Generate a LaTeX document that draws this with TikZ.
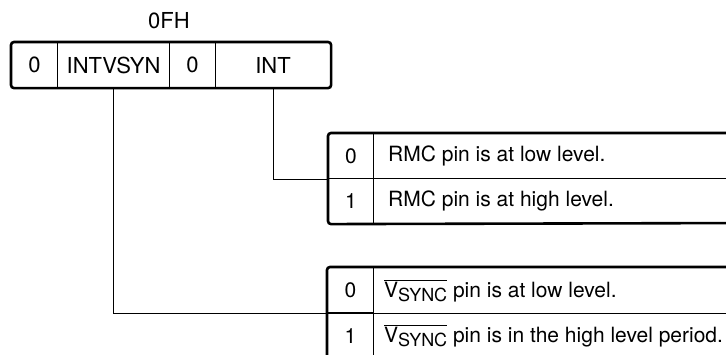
\documentclass[tikz,border=0pt]{standalone}
\usepackage{fontspec}
\setmainfont{TeX Gyre Heros}
\begin{document}
\begin{tikzpicture}[x=1pt,y=-1pt,
  txt/.style={font=\fontsize{21}{24}\selectfont, inner sep=0pt},
  cell/.style={draw, line width=1.1pt, minimum height=45pt, inner sep=0pt, anchor=north west, font=\fontsize{21}{24}\selectfont},
  regcell/.style={cell, font=\fontsize{22}{24}\selectfont},
  outer/.style={line width=2.6pt, rounded corners=3pt},
  conn/.style={line width=1.1pt}]
\useasboundingbox (0,0) rectangle (726,355);
\clip (0,0) rectangle (726,355);
% register
\node[txt, font=\fontsize{22}{24}\selectfont] (title) at (169,21) {0FH};
\node[regcell, minimum width=46pt] (b7) at (11,42) {0};
\node[regcell, minimum width=112pt] (b6) at (57,42) {INTVSYN};
\node[regcell, minimum width=46pt] (b5) at (169,42) {0};
\node[regcell, minimum width=115pt] (b4) at (215,42) {INT};
\draw[outer] (b7.north west) rectangle (b4.south east);
% upper table
\node[cell, minimum width=45pt] (ua0) at (328,133) {0};
\node[cell, minimum width=380pt, minimum height=45pt] (ut0) at (373,133) {};
\node[cell, minimum width=45pt] (ua1) at (328,178) {1};
\node[cell, minimum width=380pt, minimum height=45pt] (ut1) at (373,178) {};
\node[txt, anchor=west] (ul0) at (388,156) {RMC pin is at low level.};
\node[txt, anchor=west] (ul1) at (388,201) {RMC pin is at high level.};
\draw[outer] (760,133) -- (ua0.north west) -- (ua1.south west) -- (760,223);
% lower table
\node[cell, minimum width=46pt] (la0) at (327,267) {0};
\node[cell, minimum width=380pt, minimum height=46pt] (lt0) at (373,267) {};
\node[cell, minimum width=46pt] (la1) at (327,313) {1};
\node[cell, minimum width=380pt, minimum height=46pt] (lt1) at (373,313) {};
\node[txt, anchor=west] (ll0) at (384,291) {$\overline{\mbox{V\raisebox{-4.5pt}{\fontsize{18}{20}\selectfont SYNC}}}$ pin is at low level.};
\node[txt, anchor=west] (ll1) at (384,336) {$\overline{\mbox{V\raisebox{-4.5pt}{\fontsize{18}{20}\selectfont SYNC}}}$ pin is in the high level period.};
\draw[outer] (760,267) -- (la0.north west) -- (la1.south west) -- (760,359);
% connectors
\draw[conn] (b4.south) |- (ua0.south west);
\draw[conn] (b6.south) |- (la0.south west);
\end{tikzpicture}
\end{document}
